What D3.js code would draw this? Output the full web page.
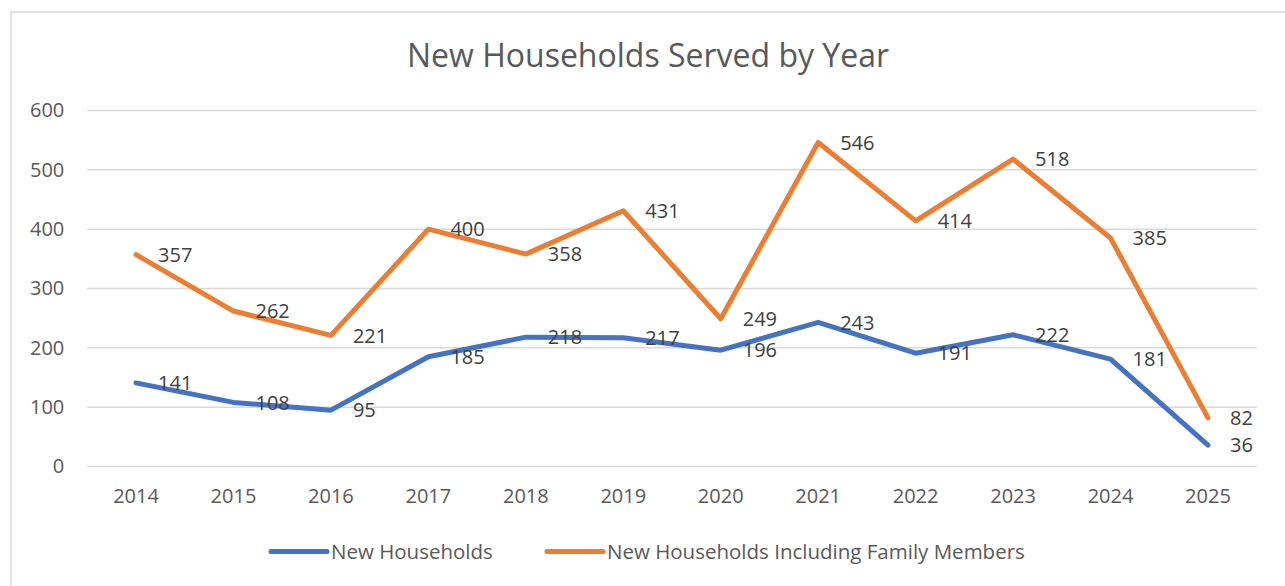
<!DOCTYPE html>
<html>
<head>
<meta charset="utf-8">
<script src="https://cdn.jsdelivr.net/npm/d3@7"></script>
<style>
  body { margin: 0; background: #fff; }
  text { font-family: "Open Sans", Lato, sans-serif; }
</style>
</head>
<body>
<div id="chart"></div>
<script>
const years = ["2014", "2015", "2016", "2017", "2018", "2019", "2020", "2021", "2022", "2023", "2024", "2025"];
const newHouseholds = [141, 108, 95, 185, 218, 217, 196, 243, 191, 222, 181, 36];
const withFamily = [357, 262, 221, 400, 358, 431, 249, 546, 414, 518, 385, 82];
const yTicks = [0, 100, 200, 300, 400, 500, 600];
const seriesNames = ["New Households", "New Households Including Family Members"];

const width = 1285, height = 586;
const margin = {top: 110.5, bottom: 119.5, left: 87.3, right: 28.3};
const colors = ["#4472C4", "#ED7D31"];
const fontFamily = "'Open Sans', Lato, sans-serif";

const svg = d3.select("#chart")
  .append("svg")
  .attr("width", width)
  .attr("height", height);

// chart border
svg.append("rect")
  .attr("x", 11).attr("y", 12)
  .attr("width", 1400).attr("height", 700)
  .attr("fill", "none")
  .attr("stroke", "#d9d9d9")
  .attr("stroke-width", 1.5);

svg.append("text")
  .attr("x", 648)
  .attr("y", 66.5)
  .attr("text-anchor", "middle")
  .attr("fill", "#595959")
  .style("font-size", "32px")
  .text("New Households Served by Year");

var x = d3.scaleBand()
  .domain(years)
  .range([margin.left, width - margin.right]);

var y = d3.scaleLinear()
  .domain([0, 600])
  .range([height - margin.bottom, margin.top]);

// gridlines
svg.append("g")
  .selectAll("line")
  .data(yTicks)
  .enter().append("line")
    .attr("x1", margin.left)
    .attr("x2", width - margin.right)
    .attr("y1", d => y(d))
    .attr("y2", d => y(d))
    .attr("stroke", "#d9d9d9")
    .attr("stroke-width", 1.5);

// y axis labels
svg.append("g")
  .attr("transform", `translate(${margin.left - 23}, 0)`)
  .call(d3.axisLeft(y).tickValues(yTicks).tickSize(0).tickPadding(0))
  .call(g => g.select(".domain").remove())
  .selectAll("text")
    .attr("fill", "#595959")
    .style("font-family", fontFamily)
    .style("font-size", "20px");

// x axis labels
svg.append("g")
  .attr("transform", `translate(0, ${y(0) + 22})`)
  .call(d3.axisBottom(x).tickSize(0).tickPadding(0))
  .call(g => g.select(".domain").remove())
  .selectAll("text")
    .attr("fill", "#595959")
    .style("font-family", fontFamily)
    .style("font-size", "20px");

const line = d3.line()
  .x((d, i) => x(years[i]) + x.bandwidth() / 2)
  .y(d => y(d));

[newHouseholds, withFamily].forEach((series, k) => {
  svg.append("path")
    .datum(series)
    .attr("d", line)
    .attr("fill", "none")
    .attr("stroke", colors[k])
    .attr("stroke-width", 5)
    .attr("stroke-linejoin", "round")
    .attr("stroke-linecap", "round");

  svg.append("g")
    .selectAll("text")
    .data(series)
    .enter().append("text")
      .attr("x", (d, i) => x(years[i]) + x.bandwidth() / 2 + 22)
      .attr("y", d => y(d))
      .attr("dy", "0.36em")
      .attr("fill", "#404040")
      .style("font-size", "20px")
      .text(d => d);
});

// legend
const legendPos = [271, 547];
const legend = svg.append("g")
  .selectAll("g")
  .data(seriesNames)
  .enter().append("g")
    .attr("transform", (d, i) => `translate(${legendPos[i]}, 551.5)`);

legend.append("line")
  .attr("x1", 0).attr("x2", 56)
  .attr("stroke", (d, i) => colors[i])
  .attr("stroke-width", 5)
  .attr("stroke-linecap", "round");

legend.append("text")
  .attr("x", 60)
  .attr("dy", "0.36em")
  .attr("fill", "#595959")
  .style("font-size", "20.5px")
  .text(d => d);
</script>
</body>
</html>
